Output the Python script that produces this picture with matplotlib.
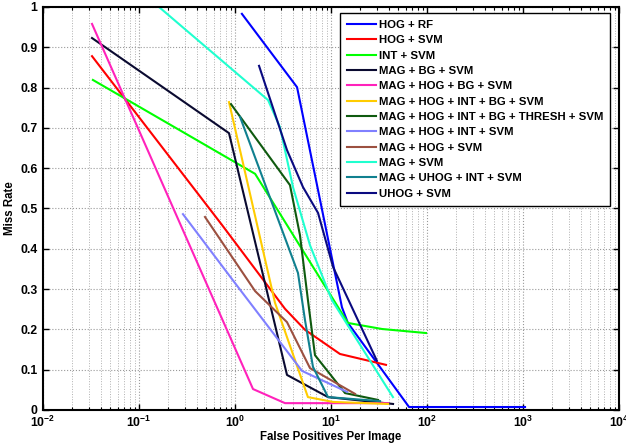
import numpy as np
import matplotlib
matplotlib.use("Agg")
import matplotlib.pyplot as plt
from matplotlib.ticker import FixedLocator, LogLocator, NullFormatter

plt.rcParams['font.family'] = ['Liberation Sans', 'DejaVu Sans']
plt.rcParams['font.weight'] = 'bold'
plt.rcParams['mathtext.fontset'] = 'custom'
plt.rcParams['mathtext.rm'] = 'Liberation Sans:bold'
plt.rcParams['mathtext.bf'] = 'Liberation Sans:bold'

# series (false positives per image, miss rate)
hog_rf_x = [1.18, 4.43, 13.0, 15.0, 65, 1050]
hog_rf_y = [0.983, 0.801, 0.255, 0.216, 0.0074, 0.0074]

hog_svm_x = [0.0324, 0.733, 3.32, 5.36, 12.4, 37.4]
hog_svm_y = [0.878, 0.459, 0.251, 0.199, 0.139, 0.112]

int_svm_x = [0.0331, 1.62, 15.0, 34, 97.6]
int_svm_y = [0.819, 0.586, 0.216, 0.201, 0.191]

mag_bg_x = [0.0324, 0.866, 3.48, 9.31, 44.3]
mag_bg_y = [0.923, 0.687, 0.087, 0.032, 0.015]

mag_hog_bg_x = [0.0324, 1.54, 3.32, 39.3]
mag_hog_bg_y = [0.958, 0.052, 0.017, 0.017]

mag_hog_int_bg_x = [0.866, 2.61, 5.75, 10.5, 39.3]
mag_hog_int_bg_y = [0.764, 0.266, 0.032, 0.020, 0.015]

thresh_x = [0.908, 3.74, 4.75, 5.75, 6.81, 14.0, 30.9]
thresh_y = [0.759, 0.558, 0.434, 0.273, 0.136, 0.042, 0.025]

mag_hog_int_x = [0.287, 1.0, 4.99, 14.7]
mag_hog_int_y = [0.486, 0.315, 0.097, 0.045]

mag_hog_x = [0.487, 1.62, 3.48, 6.04, 17.8]
mag_hog_y = [0.479, 0.295, 0.218, 0.104, 0.040]

mag_svm_x = [0.1616, 2.21, 2.94, 4.02, 6.04, 10.2, 44.2]
mag_svm_y = [1.0, 0.769, 0.702, 0.553, 0.409, 0.273, 0.032]

mag_uhog_int_x = [1.13, 4.53, 5.36, 6.49, 9.31, 32.4]
mag_uhog_int_y = [0.727, 0.340, 0.223, 0.107, 0.032, 0.022]

uhog_svm_x = [1.78, 3.48, 5.11, 7.33, 10.5, 30.1]
uhog_svm_y = [0.854, 0.645, 0.553, 0.489, 0.355, 0.122]

labels = [
    'HOG + RF', 'HOG + SVM', 'INT + SVM', 'MAG + BG + SVM',
    'MAG + HOG + BG + SVM', 'MAG + HOG + INT + BG + SVM',
    'MAG + HOG + INT + BG + THRESH + SVM', 'MAG + HOG + INT + SVM',
    'MAG + HOG + SVM', 'MAG + SVM', 'MAG + UHOG + INT + SVM', 'UHOG + SVM',
]
series = [
    (hog_rf_x, hog_rf_y), (hog_svm_x, hog_svm_y), (int_svm_x, int_svm_y),
    (mag_bg_x, mag_bg_y), (mag_hog_bg_x, mag_hog_bg_y),
    (mag_hog_int_bg_x, mag_hog_int_bg_y), (thresh_x, thresh_y),
    (mag_hog_int_x, mag_hog_int_y), (mag_hog_x, mag_hog_y),
    (mag_svm_x, mag_svm_y), (mag_uhog_int_x, mag_uhog_int_y),
    (uhog_svm_x, uhog_svm_y),
]
colors = ['#0000ff', '#ff0000', '#00ff00', '#0a0a30', '#ff22bb', '#ffcc00',
          '#0f5a0f', '#8080ff', '#9c5040', '#1fffcf', '#10808f', '#0a0a80']

fig = plt.figure(figsize=(6.26, 4.46), dpi=100)
ax = fig.add_axes([43 / 626, 36 / 446, 576 / 626, 403 / 446])

for (xs, ys), lab, c in zip(series, labels, colors):
    ax.plot(xs, ys, color=c, linewidth=1.5, label=lab)

ax.set_xscale('log')
ax.set_xlim(1e-2, 1e4)
ax.set_ylim(0, 1)

xt = [1e-2, 1e-1, 1e0, 1e1, 1e2, 1e3, 1e4]
ax.xaxis.set_major_locator(FixedLocator(xt))
ax.set_xticklabels([r'$\mathbf{10^{%d}}$' % e for e in range(-2, 5)])
ax.xaxis.set_minor_locator(LogLocator(base=10, subs=np.arange(2, 10), numticks=20))
ax.xaxis.set_minor_formatter(NullFormatter())

yt = np.round(np.arange(0, 1.01, 0.1), 1)
ax.set_yticks(yt)
ax.set_yticklabels(['0'] + ['%.1f' % v for v in yt[1:-1]] + ['1'])

ax.tick_params(which='both', direction='in', top=True, right=True, labelsize=8.8)
ax.tick_params(axis='y', pad=4)
ax.tick_params(which='major', length=4, width=1)
ax.tick_params(which='minor', length=2, width=0.8)
ax.grid(True, which='major', linestyle=':', color='#999999', linewidth=0.8)
ax.grid(True, which='minor', axis='x', linestyle=':', color='#b0b0b0', linewidth=0.7)
for sp in ax.spines.values():
    sp.set_linewidth(1.5)

ax.set_xlabel('False Positives Per Image', fontsize=8.3, fontweight='bold', labelpad=1)
ax.set_ylabel('Miss Rate', fontsize=8.3, fontweight='bold', labelpad=3)

leg = ax.legend(loc='upper right', bbox_to_anchor=(0.985, 0.985), borderaxespad=0,
                fontsize=8.2, fancybox=False, framealpha=1, edgecolor='black',
                handlelength=2.5, labelspacing=0.47, handletextpad=0.3,
                borderpad=0.6)
leg.get_frame().set_linewidth(1.0)

fig.savefig('out.png', dpi=100)
